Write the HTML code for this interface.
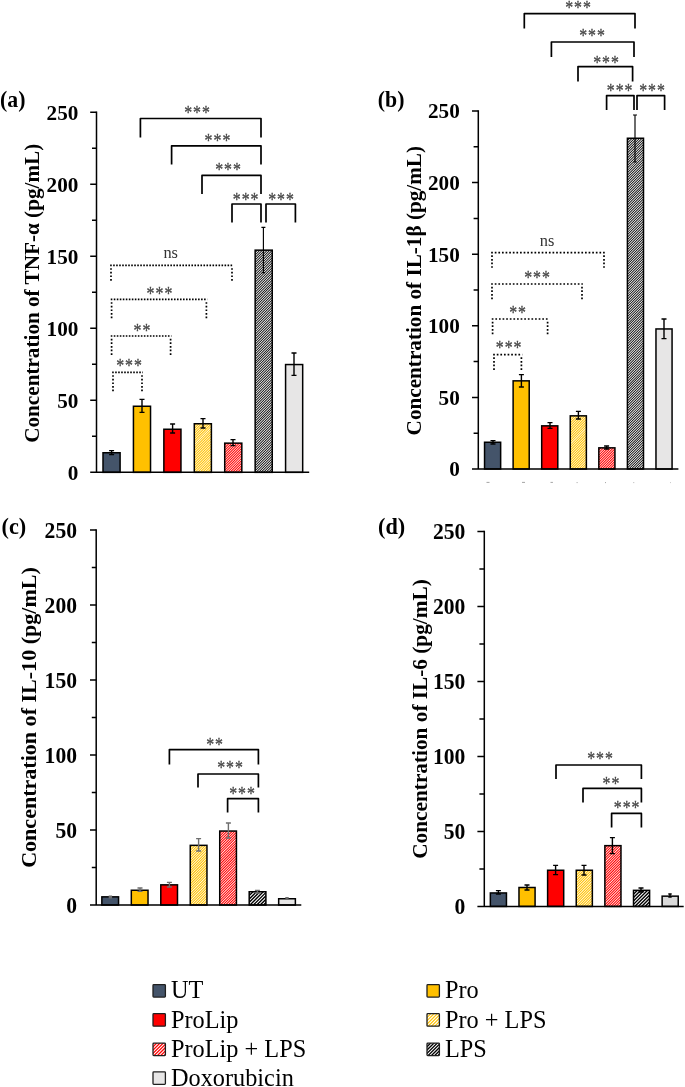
<!DOCTYPE html>
<html lang="en"><head><meta charset="utf-8"><title>Cytokine concentrations</title>
<style>html,body{margin:0;padding:0;background:#fff}svg{display:block}text{font-family:"Liberation Serif", "DejaVu Serif", serif}</style></head><body>
<svg width="685" height="1087" viewBox="0 0 685 1087">
<rect width="685" height="1087" fill="#fff"/>
<g id="panel-a">
<rect x="103" y="452.75" width="17.1" height="19.6" fill="#44546a" stroke="#000" stroke-width="1.5"/>
<rect x="133.43" y="406.25" width="17.1" height="66.1" fill="#ffc000" stroke="#000" stroke-width="1.5"/>
<rect x="163.86" y="429.25" width="17.1" height="43.1" fill="#ff0000" stroke="#000" stroke-width="1.5"/>
<clipPath id="ca3"><rect x="194.29" y="423.75" width="17.1" height="48.6"/></clipPath>
<rect x="194.29" y="423.75" width="17.1" height="48.6" fill="#ffc000"/>
<path clip-path="url(#ca3)" d="M193.29 422.75l19.1 -19.1v1.02l-19.1 19.1zM193.29 425.23l19.1 -19.1v1.02l-19.1 19.1zM193.29 427.71l19.1 -19.1v1.02l-19.1 19.1zM193.29 430.19l19.1 -19.1v1.02l-19.1 19.1zM193.29 432.67l19.1 -19.1v1.02l-19.1 19.1zM193.29 435.15l19.1 -19.1v1.02l-19.1 19.1zM193.29 437.63l19.1 -19.1v1.02l-19.1 19.1zM193.29 440.11l19.1 -19.1v1.02l-19.1 19.1zM193.29 442.59l19.1 -19.1v1.02l-19.1 19.1zM193.29 445.07l19.1 -19.1v1.02l-19.1 19.1zM193.29 447.55l19.1 -19.1v1.02l-19.1 19.1zM193.29 450.03l19.1 -19.1v1.02l-19.1 19.1zM193.29 452.51l19.1 -19.1v1.02l-19.1 19.1zM193.29 454.99l19.1 -19.1v1.02l-19.1 19.1zM193.29 457.47l19.1 -19.1v1.02l-19.1 19.1zM193.29 459.95l19.1 -19.1v1.02l-19.1 19.1zM193.29 462.43l19.1 -19.1v1.02l-19.1 19.1zM193.29 464.91l19.1 -19.1v1.02l-19.1 19.1zM193.29 467.39l19.1 -19.1v1.02l-19.1 19.1zM193.29 469.87l19.1 -19.1v1.02l-19.1 19.1zM193.29 472.35l19.1 -19.1v1.02l-19.1 19.1zM193.29 474.83l19.1 -19.1v1.02l-19.1 19.1zM193.29 477.31l19.1 -19.1v1.02l-19.1 19.1zM193.29 479.79l19.1 -19.1v1.02l-19.1 19.1zM193.29 482.27l19.1 -19.1v1.02l-19.1 19.1zM193.29 484.75l19.1 -19.1v1.02l-19.1 19.1zM193.29 487.23l19.1 -19.1v1.02l-19.1 19.1zM193.29 489.71l19.1 -19.1v1.02l-19.1 19.1zM193.29 492.19l19.1 -19.1v1.02l-19.1 19.1z" fill="#fff"/>
<rect x="194.29" y="423.75" width="17.1" height="48.6" fill="none" stroke="#000" stroke-width="1.5"/>
<clipPath id="ca4"><rect x="224.72" y="443.15" width="17.1" height="29.2"/></clipPath>
<rect x="224.72" y="443.15" width="17.1" height="29.2" fill="#ff0000"/>
<path clip-path="url(#ca4)" d="M223.72 442.15l19.1 -19.1v1.02l-19.1 19.1zM223.72 444.63l19.1 -19.1v1.02l-19.1 19.1zM223.72 447.11l19.1 -19.1v1.02l-19.1 19.1zM223.72 449.59l19.1 -19.1v1.02l-19.1 19.1zM223.72 452.07l19.1 -19.1v1.02l-19.1 19.1zM223.72 454.55l19.1 -19.1v1.02l-19.1 19.1zM223.72 457.03l19.1 -19.1v1.02l-19.1 19.1zM223.72 459.51l19.1 -19.1v1.02l-19.1 19.1zM223.72 461.99l19.1 -19.1v1.02l-19.1 19.1zM223.72 464.47l19.1 -19.1v1.02l-19.1 19.1zM223.72 466.95l19.1 -19.1v1.02l-19.1 19.1zM223.72 469.43l19.1 -19.1v1.02l-19.1 19.1zM223.72 471.91l19.1 -19.1v1.02l-19.1 19.1zM223.72 474.39l19.1 -19.1v1.02l-19.1 19.1zM223.72 476.87l19.1 -19.1v1.02l-19.1 19.1zM223.72 479.35l19.1 -19.1v1.02l-19.1 19.1zM223.72 481.83l19.1 -19.1v1.02l-19.1 19.1zM223.72 484.31l19.1 -19.1v1.02l-19.1 19.1zM223.72 486.79l19.1 -19.1v1.02l-19.1 19.1zM223.72 489.27l19.1 -19.1v1.02l-19.1 19.1zM223.72 491.75l19.1 -19.1v1.02l-19.1 19.1z" fill="#fff"/>
<rect x="224.72" y="443.15" width="17.1" height="29.2" fill="none" stroke="#000" stroke-width="1.5"/>
<clipPath id="ca5"><rect x="255.15" y="250.15" width="17.1" height="222.2"/></clipPath>
<rect x="255.15" y="250.15" width="17.1" height="222.2" fill="#000000"/>
<path clip-path="url(#ca5)" d="M254.15 249.15l19.1 -19.1v1.24l-19.1 19.1zM254.15 251.63l19.1 -19.1v1.24l-19.1 19.1zM254.15 254.11l19.1 -19.1v1.24l-19.1 19.1zM254.15 256.59l19.1 -19.1v1.24l-19.1 19.1zM254.15 259.07l19.1 -19.1v1.24l-19.1 19.1zM254.15 261.55l19.1 -19.1v1.24l-19.1 19.1zM254.15 264.03l19.1 -19.1v1.24l-19.1 19.1zM254.15 266.51l19.1 -19.1v1.24l-19.1 19.1zM254.15 268.99l19.1 -19.1v1.24l-19.1 19.1zM254.15 271.47l19.1 -19.1v1.24l-19.1 19.1zM254.15 273.95l19.1 -19.1v1.24l-19.1 19.1zM254.15 276.43l19.1 -19.1v1.24l-19.1 19.1zM254.15 278.91l19.1 -19.1v1.24l-19.1 19.1zM254.15 281.39l19.1 -19.1v1.24l-19.1 19.1zM254.15 283.87l19.1 -19.1v1.24l-19.1 19.1zM254.15 286.35l19.1 -19.1v1.24l-19.1 19.1zM254.15 288.83l19.1 -19.1v1.24l-19.1 19.1zM254.15 291.31l19.1 -19.1v1.24l-19.1 19.1zM254.15 293.79l19.1 -19.1v1.24l-19.1 19.1zM254.15 296.27l19.1 -19.1v1.24l-19.1 19.1zM254.15 298.75l19.1 -19.1v1.24l-19.1 19.1zM254.15 301.23l19.1 -19.1v1.24l-19.1 19.1zM254.15 303.71l19.1 -19.1v1.24l-19.1 19.1zM254.15 306.19l19.1 -19.1v1.24l-19.1 19.1zM254.15 308.67l19.1 -19.1v1.24l-19.1 19.1zM254.15 311.15l19.1 -19.1v1.24l-19.1 19.1zM254.15 313.63l19.1 -19.1v1.24l-19.1 19.1zM254.15 316.11l19.1 -19.1v1.24l-19.1 19.1zM254.15 318.59l19.1 -19.1v1.24l-19.1 19.1zM254.15 321.07l19.1 -19.1v1.24l-19.1 19.1zM254.15 323.55l19.1 -19.1v1.24l-19.1 19.1zM254.15 326.03l19.1 -19.1v1.24l-19.1 19.1zM254.15 328.51l19.1 -19.1v1.24l-19.1 19.1zM254.15 330.99l19.1 -19.1v1.24l-19.1 19.1zM254.15 333.47l19.1 -19.1v1.24l-19.1 19.1zM254.15 335.95l19.1 -19.1v1.24l-19.1 19.1zM254.15 338.43l19.1 -19.1v1.24l-19.1 19.1zM254.15 340.91l19.1 -19.1v1.24l-19.1 19.1zM254.15 343.39l19.1 -19.1v1.24l-19.1 19.1zM254.15 345.87l19.1 -19.1v1.24l-19.1 19.1zM254.15 348.35l19.1 -19.1v1.24l-19.1 19.1zM254.15 350.83l19.1 -19.1v1.24l-19.1 19.1zM254.15 353.31l19.1 -19.1v1.24l-19.1 19.1zM254.15 355.79l19.1 -19.1v1.24l-19.1 19.1zM254.15 358.27l19.1 -19.1v1.24l-19.1 19.1zM254.15 360.75l19.1 -19.1v1.24l-19.1 19.1zM254.15 363.23l19.1 -19.1v1.24l-19.1 19.1zM254.15 365.71l19.1 -19.1v1.24l-19.1 19.1zM254.15 368.19l19.1 -19.1v1.24l-19.1 19.1zM254.15 370.67l19.1 -19.1v1.24l-19.1 19.1zM254.15 373.15l19.1 -19.1v1.24l-19.1 19.1zM254.15 375.63l19.1 -19.1v1.24l-19.1 19.1zM254.15 378.11l19.1 -19.1v1.24l-19.1 19.1zM254.15 380.59l19.1 -19.1v1.24l-19.1 19.1zM254.15 383.07l19.1 -19.1v1.24l-19.1 19.1zM254.15 385.55l19.1 -19.1v1.24l-19.1 19.1zM254.15 388.03l19.1 -19.1v1.24l-19.1 19.1zM254.15 390.51l19.1 -19.1v1.24l-19.1 19.1zM254.15 392.99l19.1 -19.1v1.24l-19.1 19.1zM254.15 395.47l19.1 -19.1v1.24l-19.1 19.1zM254.15 397.95l19.1 -19.1v1.24l-19.1 19.1zM254.15 400.43l19.1 -19.1v1.24l-19.1 19.1zM254.15 402.91l19.1 -19.1v1.24l-19.1 19.1zM254.15 405.39l19.1 -19.1v1.24l-19.1 19.1zM254.15 407.87l19.1 -19.1v1.24l-19.1 19.1zM254.15 410.35l19.1 -19.1v1.24l-19.1 19.1zM254.15 412.83l19.1 -19.1v1.24l-19.1 19.1zM254.15 415.31l19.1 -19.1v1.24l-19.1 19.1zM254.15 417.79l19.1 -19.1v1.24l-19.1 19.1zM254.15 420.27l19.1 -19.1v1.24l-19.1 19.1zM254.15 422.75l19.1 -19.1v1.24l-19.1 19.1zM254.15 425.23l19.1 -19.1v1.24l-19.1 19.1zM254.15 427.71l19.1 -19.1v1.24l-19.1 19.1zM254.15 430.19l19.1 -19.1v1.24l-19.1 19.1zM254.15 432.67l19.1 -19.1v1.24l-19.1 19.1zM254.15 435.15l19.1 -19.1v1.24l-19.1 19.1zM254.15 437.63l19.1 -19.1v1.24l-19.1 19.1zM254.15 440.11l19.1 -19.1v1.24l-19.1 19.1zM254.15 442.59l19.1 -19.1v1.24l-19.1 19.1zM254.15 445.07l19.1 -19.1v1.24l-19.1 19.1zM254.15 447.55l19.1 -19.1v1.24l-19.1 19.1zM254.15 450.03l19.1 -19.1v1.24l-19.1 19.1zM254.15 452.51l19.1 -19.1v1.24l-19.1 19.1zM254.15 454.99l19.1 -19.1v1.24l-19.1 19.1zM254.15 457.47l19.1 -19.1v1.24l-19.1 19.1zM254.15 459.95l19.1 -19.1v1.24l-19.1 19.1zM254.15 462.43l19.1 -19.1v1.24l-19.1 19.1zM254.15 464.91l19.1 -19.1v1.24l-19.1 19.1zM254.15 467.39l19.1 -19.1v1.24l-19.1 19.1zM254.15 469.87l19.1 -19.1v1.24l-19.1 19.1zM254.15 472.35l19.1 -19.1v1.24l-19.1 19.1zM254.15 474.83l19.1 -19.1v1.24l-19.1 19.1zM254.15 477.31l19.1 -19.1v1.24l-19.1 19.1zM254.15 479.79l19.1 -19.1v1.24l-19.1 19.1zM254.15 482.27l19.1 -19.1v1.24l-19.1 19.1zM254.15 484.75l19.1 -19.1v1.24l-19.1 19.1zM254.15 487.23l19.1 -19.1v1.24l-19.1 19.1zM254.15 489.71l19.1 -19.1v1.24l-19.1 19.1zM254.15 492.19l19.1 -19.1v1.24l-19.1 19.1z" fill="#fff"/>
<rect x="255.15" y="250.15" width="17.1" height="222.2" fill="none" stroke="#000" stroke-width="1.5"/>
<rect x="285.58" y="364.55" width="17.1" height="107.8" fill="#e7e6e6" stroke="#000" stroke-width="1.5"/>
<path d="M96.5 111.6V473.1M90.2 472.35H309.2" stroke="#000" stroke-width="1.5" fill="none"/>
<path d="M92 436.35H96.5M90.2 400.35H96.5M92 364.35H96.5M90.2 328.35H96.5M92 292.35H96.5M90.2 256.35H96.5M92 220.35H96.5M90.2 184.35H96.5M92 148.35H96.5M90.2 112.35H96.5" stroke="#000" stroke-width="1.5" fill="none"/>
<text transform="translate(78.4 479.65) scale(1 1.03)" font-size="21.2" font-weight="bold" text-anchor="end" fill="#000">0</text>
<text transform="translate(78.4 407.65) scale(1 1.03)" font-size="21.2" font-weight="bold" text-anchor="end" fill="#000">50</text>
<text transform="translate(78.4 335.65) scale(1 1.03)" font-size="21.2" font-weight="bold" text-anchor="end" fill="#000">100</text>
<text transform="translate(78.4 263.65) scale(1 1.03)" font-size="21.2" font-weight="bold" text-anchor="end" fill="#000">150</text>
<text transform="translate(78.4 191.65) scale(1 1.03)" font-size="21.2" font-weight="bold" text-anchor="end" fill="#000">200</text>
<text transform="translate(78.4 119.65) scale(1 1.03)" font-size="21.2" font-weight="bold" text-anchor="end" fill="#000">250</text>
<path d="M111.6 450.6V454.6M109.1 450.6H114.1M109.1 454.6H114.1M142 399.4V412.4M139.5 399.4H144.5M139.5 412.4H144.5M172.6 424V433M170.1 424H175.1M170.1 433H175.1M203 418.6V428M200.5 418.6H205.5M200.5 428H205.5M233 439.6V445.6M230.5 439.6H235.5M230.5 445.6H235.5M294 353V375.4M291.5 353H296.5M291.5 375.4H296.5" stroke="#000" stroke-width="1.4" fill="none"/>
<path d="M263.4 227.4V272.6M261.4 227.4H265.4M261.8 272.6H265" stroke="#000" stroke-width="1.15" fill="none"/>
<path d="M140.4 137.5V118.5H261V137.5M171.6 164.4V145.8H261V164.4M202 194V175.4H261V194M232 222.6V204H261V222.6M266 222.6V204H295.4V222.6" stroke="#000" stroke-width="1.7" fill="none" stroke-linejoin="round"/>
<path d="M110.15 265.4H232.85M110.75 299.4H207.25M110.75 336H171.45M112.15 372.4H142.85" stroke="#000" stroke-width="1.7" stroke-dasharray="1.6 1.41" fill="none"/>
<path d="M111 268.16V281.45M232 268.16V281.45M111.6 302.16V318.85M206.4 302.16V318.85M111.6 338.76V355.85M170.6 338.76V355.85M113 375.16V391.85M142 375.16V391.85" stroke="#000" stroke-width="1.7" stroke-dasharray="1.7 1.91" fill="none"/>
<text transform="translate(184.2 119) scale(0.88 1.105)" font-size="18" letter-spacing="1.11" fill="#4a4a4a" stroke="#4a4a4a" stroke-width="0.3">***</text>
<text transform="translate(204.6 147.4) scale(0.88 1.105)" font-size="18" letter-spacing="1.11" fill="#4a4a4a" stroke="#4a4a4a" stroke-width="0.3">***</text>
<text transform="translate(215.2 176.4) scale(0.88 1.105)" font-size="18" letter-spacing="1.11" fill="#4a4a4a" stroke="#4a4a4a" stroke-width="0.3">***</text>
<text transform="translate(232.8 206) scale(0.88 1.105)" font-size="18" letter-spacing="1.11" fill="#4a4a4a" stroke="#4a4a4a" stroke-width="0.3">***</text>
<text transform="translate(268.2 206) scale(0.88 1.105)" font-size="18" letter-spacing="1.11" fill="#4a4a4a" stroke="#4a4a4a" stroke-width="0.3">***</text>
<text transform="translate(146.6 299.9) scale(0.88 1.105)" font-size="18" letter-spacing="1.11" fill="#4a4a4a" stroke="#4a4a4a" stroke-width="0.3">***</text>
<text transform="translate(133.6 337.4) scale(0.88 1.105)" font-size="18" letter-spacing="1.11" fill="#4a4a4a" stroke="#4a4a4a" stroke-width="0.3">**</text>
<text transform="translate(116.2 372.4) scale(0.88 1.105)" font-size="18" letter-spacing="1.11" fill="#4a4a4a" stroke="#4a4a4a" stroke-width="0.3">***</text>
<text x="163.4" y="258" font-size="16.4" fill="#333">ns</text>
<text transform="translate(0 106.8) scale(1 1.04)" font-size="21.8" font-weight="bold" fill="#000">(a)</text>
<text transform="translate(38.8 293.3) rotate(-90)" font-size="20" font-weight="bold" text-anchor="middle" textLength="299" lengthAdjust="spacingAndGlyphs" fill="#000">Concentration of TNF-α (pg/mL)</text>
</g>
<g id="panel-b">
<rect x="484.55" y="442.25" width="16.1" height="26.75" fill="#44546a" stroke="#000" stroke-width="1.5"/>
<rect x="513.12" y="380.85" width="16.1" height="88.15" fill="#ffc000" stroke="#000" stroke-width="1.5"/>
<rect x="541.69" y="425.85" width="16.1" height="43.15" fill="#ff0000" stroke="#000" stroke-width="1.5"/>
<clipPath id="cb3"><rect x="570.26" y="415.85" width="16.1" height="53.15"/></clipPath>
<rect x="570.26" y="415.85" width="16.1" height="53.15" fill="#ffc000"/>
<path clip-path="url(#cb3)" d="M569.26 414.85l18.1 -18.1v1.02l-18.1 18.1zM569.26 417.33l18.1 -18.1v1.02l-18.1 18.1zM569.26 419.81l18.1 -18.1v1.02l-18.1 18.1zM569.26 422.29l18.1 -18.1v1.02l-18.1 18.1zM569.26 424.77l18.1 -18.1v1.02l-18.1 18.1zM569.26 427.25l18.1 -18.1v1.02l-18.1 18.1zM569.26 429.73l18.1 -18.1v1.02l-18.1 18.1zM569.26 432.21l18.1 -18.1v1.02l-18.1 18.1zM569.26 434.69l18.1 -18.1v1.02l-18.1 18.1zM569.26 437.17l18.1 -18.1v1.02l-18.1 18.1zM569.26 439.65l18.1 -18.1v1.02l-18.1 18.1zM569.26 442.13l18.1 -18.1v1.02l-18.1 18.1zM569.26 444.61l18.1 -18.1v1.02l-18.1 18.1zM569.26 447.09l18.1 -18.1v1.02l-18.1 18.1zM569.26 449.57l18.1 -18.1v1.02l-18.1 18.1zM569.26 452.05l18.1 -18.1v1.02l-18.1 18.1zM569.26 454.53l18.1 -18.1v1.02l-18.1 18.1zM569.26 457.01l18.1 -18.1v1.02l-18.1 18.1zM569.26 459.49l18.1 -18.1v1.02l-18.1 18.1zM569.26 461.97l18.1 -18.1v1.02l-18.1 18.1zM569.26 464.45l18.1 -18.1v1.02l-18.1 18.1zM569.26 466.93l18.1 -18.1v1.02l-18.1 18.1zM569.26 469.41l18.1 -18.1v1.02l-18.1 18.1zM569.26 471.89l18.1 -18.1v1.02l-18.1 18.1zM569.26 474.37l18.1 -18.1v1.02l-18.1 18.1zM569.26 476.85l18.1 -18.1v1.02l-18.1 18.1zM569.26 479.33l18.1 -18.1v1.02l-18.1 18.1zM569.26 481.81l18.1 -18.1v1.02l-18.1 18.1zM569.26 484.29l18.1 -18.1v1.02l-18.1 18.1zM569.26 486.77l18.1 -18.1v1.02l-18.1 18.1z" fill="#fff"/>
<rect x="570.26" y="415.85" width="16.1" height="53.15" fill="none" stroke="#000" stroke-width="1.5"/>
<clipPath id="cb4"><rect x="598.83" y="447.85" width="16.1" height="21.15"/></clipPath>
<rect x="598.83" y="447.85" width="16.1" height="21.15" fill="#ff0000"/>
<path clip-path="url(#cb4)" d="M597.83 446.85l18.1 -18.1v1.02l-18.1 18.1zM597.83 449.33l18.1 -18.1v1.02l-18.1 18.1zM597.83 451.81l18.1 -18.1v1.02l-18.1 18.1zM597.83 454.29l18.1 -18.1v1.02l-18.1 18.1zM597.83 456.77l18.1 -18.1v1.02l-18.1 18.1zM597.83 459.25l18.1 -18.1v1.02l-18.1 18.1zM597.83 461.73l18.1 -18.1v1.02l-18.1 18.1zM597.83 464.21l18.1 -18.1v1.02l-18.1 18.1zM597.83 466.69l18.1 -18.1v1.02l-18.1 18.1zM597.83 469.17l18.1 -18.1v1.02l-18.1 18.1zM597.83 471.65l18.1 -18.1v1.02l-18.1 18.1zM597.83 474.13l18.1 -18.1v1.02l-18.1 18.1zM597.83 476.61l18.1 -18.1v1.02l-18.1 18.1zM597.83 479.09l18.1 -18.1v1.02l-18.1 18.1zM597.83 481.57l18.1 -18.1v1.02l-18.1 18.1zM597.83 484.05l18.1 -18.1v1.02l-18.1 18.1zM597.83 486.53l18.1 -18.1v1.02l-18.1 18.1z" fill="#fff"/>
<rect x="598.83" y="447.85" width="16.1" height="21.15" fill="none" stroke="#000" stroke-width="1.5"/>
<clipPath id="cb5"><rect x="627.4" y="138.25" width="16.1" height="330.75"/></clipPath>
<rect x="627.4" y="138.25" width="16.1" height="330.75" fill="#000000"/>
<path clip-path="url(#cb5)" d="M626.4 137.25l18.1 -18.1v1.24l-18.1 18.1zM626.4 139.73l18.1 -18.1v1.24l-18.1 18.1zM626.4 142.21l18.1 -18.1v1.24l-18.1 18.1zM626.4 144.69l18.1 -18.1v1.24l-18.1 18.1zM626.4 147.17l18.1 -18.1v1.24l-18.1 18.1zM626.4 149.65l18.1 -18.1v1.24l-18.1 18.1zM626.4 152.13l18.1 -18.1v1.24l-18.1 18.1zM626.4 154.61l18.1 -18.1v1.24l-18.1 18.1zM626.4 157.09l18.1 -18.1v1.24l-18.1 18.1zM626.4 159.57l18.1 -18.1v1.24l-18.1 18.1zM626.4 162.05l18.1 -18.1v1.24l-18.1 18.1zM626.4 164.53l18.1 -18.1v1.24l-18.1 18.1zM626.4 167.01l18.1 -18.1v1.24l-18.1 18.1zM626.4 169.49l18.1 -18.1v1.24l-18.1 18.1zM626.4 171.97l18.1 -18.1v1.24l-18.1 18.1zM626.4 174.45l18.1 -18.1v1.24l-18.1 18.1zM626.4 176.93l18.1 -18.1v1.24l-18.1 18.1zM626.4 179.41l18.1 -18.1v1.24l-18.1 18.1zM626.4 181.89l18.1 -18.1v1.24l-18.1 18.1zM626.4 184.37l18.1 -18.1v1.24l-18.1 18.1zM626.4 186.85l18.1 -18.1v1.24l-18.1 18.1zM626.4 189.33l18.1 -18.1v1.24l-18.1 18.1zM626.4 191.81l18.1 -18.1v1.24l-18.1 18.1zM626.4 194.29l18.1 -18.1v1.24l-18.1 18.1zM626.4 196.77l18.1 -18.1v1.24l-18.1 18.1zM626.4 199.25l18.1 -18.1v1.24l-18.1 18.1zM626.4 201.73l18.1 -18.1v1.24l-18.1 18.1zM626.4 204.21l18.1 -18.1v1.24l-18.1 18.1zM626.4 206.69l18.1 -18.1v1.24l-18.1 18.1zM626.4 209.17l18.1 -18.1v1.24l-18.1 18.1zM626.4 211.65l18.1 -18.1v1.24l-18.1 18.1zM626.4 214.13l18.1 -18.1v1.24l-18.1 18.1zM626.4 216.61l18.1 -18.1v1.24l-18.1 18.1zM626.4 219.09l18.1 -18.1v1.24l-18.1 18.1zM626.4 221.57l18.1 -18.1v1.24l-18.1 18.1zM626.4 224.05l18.1 -18.1v1.24l-18.1 18.1zM626.4 226.53l18.1 -18.1v1.24l-18.1 18.1zM626.4 229.01l18.1 -18.1v1.24l-18.1 18.1zM626.4 231.49l18.1 -18.1v1.24l-18.1 18.1zM626.4 233.97l18.1 -18.1v1.24l-18.1 18.1zM626.4 236.45l18.1 -18.1v1.24l-18.1 18.1zM626.4 238.93l18.1 -18.1v1.24l-18.1 18.1zM626.4 241.41l18.1 -18.1v1.24l-18.1 18.1zM626.4 243.89l18.1 -18.1v1.24l-18.1 18.1zM626.4 246.37l18.1 -18.1v1.24l-18.1 18.1zM626.4 248.85l18.1 -18.1v1.24l-18.1 18.1zM626.4 251.33l18.1 -18.1v1.24l-18.1 18.1zM626.4 253.81l18.1 -18.1v1.24l-18.1 18.1zM626.4 256.29l18.1 -18.1v1.24l-18.1 18.1zM626.4 258.77l18.1 -18.1v1.24l-18.1 18.1zM626.4 261.25l18.1 -18.1v1.24l-18.1 18.1zM626.4 263.73l18.1 -18.1v1.24l-18.1 18.1zM626.4 266.21l18.1 -18.1v1.24l-18.1 18.1zM626.4 268.69l18.1 -18.1v1.24l-18.1 18.1zM626.4 271.17l18.1 -18.1v1.24l-18.1 18.1zM626.4 273.65l18.1 -18.1v1.24l-18.1 18.1zM626.4 276.13l18.1 -18.1v1.24l-18.1 18.1zM626.4 278.61l18.1 -18.1v1.24l-18.1 18.1zM626.4 281.09l18.1 -18.1v1.24l-18.1 18.1zM626.4 283.57l18.1 -18.1v1.24l-18.1 18.1zM626.4 286.05l18.1 -18.1v1.24l-18.1 18.1zM626.4 288.53l18.1 -18.1v1.24l-18.1 18.1zM626.4 291.01l18.1 -18.1v1.24l-18.1 18.1zM626.4 293.49l18.1 -18.1v1.24l-18.1 18.1zM626.4 295.97l18.1 -18.1v1.24l-18.1 18.1zM626.4 298.45l18.1 -18.1v1.24l-18.1 18.1zM626.4 300.93l18.1 -18.1v1.24l-18.1 18.1zM626.4 303.41l18.1 -18.1v1.24l-18.1 18.1zM626.4 305.89l18.1 -18.1v1.24l-18.1 18.1zM626.4 308.37l18.1 -18.1v1.24l-18.1 18.1zM626.4 310.85l18.1 -18.1v1.24l-18.1 18.1zM626.4 313.33l18.1 -18.1v1.24l-18.1 18.1zM626.4 315.81l18.1 -18.1v1.24l-18.1 18.1zM626.4 318.29l18.1 -18.1v1.24l-18.1 18.1zM626.4 320.77l18.1 -18.1v1.24l-18.1 18.1zM626.4 323.25l18.1 -18.1v1.24l-18.1 18.1zM626.4 325.73l18.1 -18.1v1.24l-18.1 18.1zM626.4 328.21l18.1 -18.1v1.24l-18.1 18.1zM626.4 330.69l18.1 -18.1v1.24l-18.1 18.1zM626.4 333.17l18.1 -18.1v1.24l-18.1 18.1zM626.4 335.65l18.1 -18.1v1.24l-18.1 18.1zM626.4 338.13l18.1 -18.1v1.24l-18.1 18.1zM626.4 340.61l18.1 -18.1v1.24l-18.1 18.1zM626.4 343.09l18.1 -18.1v1.24l-18.1 18.1zM626.4 345.57l18.1 -18.1v1.24l-18.1 18.1zM626.4 348.05l18.1 -18.1v1.24l-18.1 18.1zM626.4 350.53l18.1 -18.1v1.24l-18.1 18.1zM626.4 353.01l18.1 -18.1v1.24l-18.1 18.1zM626.4 355.49l18.1 -18.1v1.24l-18.1 18.1zM626.4 357.97l18.1 -18.1v1.24l-18.1 18.1zM626.4 360.45l18.1 -18.1v1.24l-18.1 18.1zM626.4 362.93l18.1 -18.1v1.24l-18.1 18.1zM626.4 365.41l18.1 -18.1v1.24l-18.1 18.1zM626.4 367.89l18.1 -18.1v1.24l-18.1 18.1zM626.4 370.37l18.1 -18.1v1.24l-18.1 18.1zM626.4 372.85l18.1 -18.1v1.24l-18.1 18.1zM626.4 375.33l18.1 -18.1v1.24l-18.1 18.1zM626.4 377.81l18.1 -18.1v1.24l-18.1 18.1zM626.4 380.29l18.1 -18.1v1.24l-18.1 18.1zM626.4 382.77l18.1 -18.1v1.24l-18.1 18.1zM626.4 385.25l18.1 -18.1v1.24l-18.1 18.1zM626.4 387.73l18.1 -18.1v1.24l-18.1 18.1zM626.4 390.21l18.1 -18.1v1.24l-18.1 18.1zM626.4 392.69l18.1 -18.1v1.24l-18.1 18.1zM626.4 395.17l18.1 -18.1v1.24l-18.1 18.1zM626.4 397.65l18.1 -18.1v1.24l-18.1 18.1zM626.4 400.13l18.1 -18.1v1.24l-18.1 18.1zM626.4 402.61l18.1 -18.1v1.24l-18.1 18.1zM626.4 405.09l18.1 -18.1v1.24l-18.1 18.1zM626.4 407.57l18.1 -18.1v1.24l-18.1 18.1zM626.4 410.05l18.1 -18.1v1.24l-18.1 18.1zM626.4 412.53l18.1 -18.1v1.24l-18.1 18.1zM626.4 415.01l18.1 -18.1v1.24l-18.1 18.1zM626.4 417.49l18.1 -18.1v1.24l-18.1 18.1zM626.4 419.97l18.1 -18.1v1.24l-18.1 18.1zM626.4 422.45l18.1 -18.1v1.24l-18.1 18.1zM626.4 424.93l18.1 -18.1v1.24l-18.1 18.1zM626.4 427.41l18.1 -18.1v1.24l-18.1 18.1zM626.4 429.89l18.1 -18.1v1.24l-18.1 18.1zM626.4 432.37l18.1 -18.1v1.24l-18.1 18.1zM626.4 434.85l18.1 -18.1v1.24l-18.1 18.1zM626.4 437.33l18.1 -18.1v1.24l-18.1 18.1zM626.4 439.81l18.1 -18.1v1.24l-18.1 18.1zM626.4 442.29l18.1 -18.1v1.24l-18.1 18.1zM626.4 444.77l18.1 -18.1v1.24l-18.1 18.1zM626.4 447.25l18.1 -18.1v1.24l-18.1 18.1zM626.4 449.73l18.1 -18.1v1.24l-18.1 18.1zM626.4 452.21l18.1 -18.1v1.24l-18.1 18.1zM626.4 454.69l18.1 -18.1v1.24l-18.1 18.1zM626.4 457.17l18.1 -18.1v1.24l-18.1 18.1zM626.4 459.65l18.1 -18.1v1.24l-18.1 18.1zM626.4 462.13l18.1 -18.1v1.24l-18.1 18.1zM626.4 464.61l18.1 -18.1v1.24l-18.1 18.1zM626.4 467.09l18.1 -18.1v1.24l-18.1 18.1zM626.4 469.57l18.1 -18.1v1.24l-18.1 18.1zM626.4 472.05l18.1 -18.1v1.24l-18.1 18.1zM626.4 474.53l18.1 -18.1v1.24l-18.1 18.1zM626.4 477.01l18.1 -18.1v1.24l-18.1 18.1zM626.4 479.49l18.1 -18.1v1.24l-18.1 18.1zM626.4 481.97l18.1 -18.1v1.24l-18.1 18.1zM626.4 484.45l18.1 -18.1v1.24l-18.1 18.1zM626.4 486.93l18.1 -18.1v1.24l-18.1 18.1z" fill="#fff"/>
<rect x="627.4" y="138.25" width="16.1" height="330.75" fill="none" stroke="#000" stroke-width="1.5"/>
<rect x="655.97" y="328.95" width="16.1" height="140.05" fill="#e7e6e6" stroke="#000" stroke-width="1.5"/>
<path d="M478.3 110.25V469.75M472 469H678.4" stroke="#000" stroke-width="1.5" fill="none"/>
<path d="M473.6 433.2H478.3M472 397.4H478.3M473.6 361.6H478.3M472 325.8H478.3M473.6 290H478.3M472 254.2H478.3M473.6 218.4H478.3M472 182.6H478.3M473.6 146.8H478.3M472 111H478.3" stroke="#000" stroke-width="1.5" fill="none"/>
<text transform="translate(459.8 476.3) scale(1 1.03)" font-size="21.2" font-weight="bold" text-anchor="end" fill="#000">0</text>
<text transform="translate(459.8 404.7) scale(1 1.03)" font-size="21.2" font-weight="bold" text-anchor="end" fill="#000">50</text>
<text transform="translate(459.8 333.1) scale(1 1.03)" font-size="21.2" font-weight="bold" text-anchor="end" fill="#000">100</text>
<text transform="translate(459.8 261.5) scale(1 1.03)" font-size="21.2" font-weight="bold" text-anchor="end" fill="#000">150</text>
<text transform="translate(459.8 189.9) scale(1 1.03)" font-size="21.2" font-weight="bold" text-anchor="end" fill="#000">200</text>
<text transform="translate(459.8 118.3) scale(1 1.03)" font-size="21.2" font-weight="bold" text-anchor="end" fill="#000">250</text>
<path d="M493 440.6V444M490.5 440.6H495.5M490.5 444H495.5M521.4 374.6V387M518.9 374.6H523.9M518.9 387H523.9M550 422.6V428.4M547.5 422.6H552.5M547.5 428.4H552.5M578.4 411.4V419M575.9 411.4H580.9M575.9 419H580.9M606.6 446V449M604.1 446H609.1M604.1 449H609.1M664 319V338.6M661.5 319H666.5M661.5 338.6H666.5" stroke="#000" stroke-width="1.4" fill="none"/>
<path d="M635 115V162M633 115H637M633.4 162H636.6" stroke="#000" stroke-width="1.15" fill="none"/>
<path d="M524.3 28.6V13.6H635V28.6M551.4 57V42H634V57M578 81.6V66.6H632.6V81.6M606.6 110V95.6H634V110M637 110V95.6H664.6V110" stroke="#000" stroke-width="1.7" fill="none" stroke-linejoin="round"/>
<path d="M491.15 252.6H604.85M491.15 284H582.85M491.75 319H548.45M493.15 354.6H522.25" stroke="#000" stroke-width="1.7" stroke-dasharray="1.7 1.91" fill="none"/>
<path d="M492 255.36V267.85M604 255.36V267.85M492 286.76V299.85M582 286.76V299.85M492.6 321.76V334.85M547.6 321.76V334.85M494 357.36V370.25M521.4 357.36V370.25" stroke="#000" stroke-width="1.7" stroke-dasharray="1.7 1.91" fill="none"/>
<text transform="translate(565.2 14) scale(0.88 1.105)" font-size="18" letter-spacing="1.11" fill="#4a4a4a" stroke="#4a4a4a" stroke-width="0.3">***</text>
<text transform="translate(579.2 42.4) scale(0.88 1.105)" font-size="18" letter-spacing="1.11" fill="#4a4a4a" stroke="#4a4a4a" stroke-width="0.3">***</text>
<text transform="translate(593.2 69.4) scale(0.88 1.105)" font-size="18" letter-spacing="1.11" fill="#4a4a4a" stroke="#4a4a4a" stroke-width="0.3">***</text>
<text transform="translate(606.8 97.4) scale(0.88 1.105)" font-size="18" letter-spacing="1.11" fill="#4a4a4a" stroke="#4a4a4a" stroke-width="0.3">***</text>
<text transform="translate(639.2 97.4) scale(0.88 1.105)" font-size="18" letter-spacing="1.11" fill="#4a4a4a" stroke="#4a4a4a" stroke-width="0.3">***</text>
<text transform="translate(524.2 283.8) scale(0.88 1.105)" font-size="18" letter-spacing="1.11" fill="#4a4a4a" stroke="#4a4a4a" stroke-width="0.3">***</text>
<text transform="translate(509.2 319.4) scale(0.88 1.105)" font-size="18" letter-spacing="1.11" fill="#4a4a4a" stroke="#4a4a4a" stroke-width="0.3">**</text>
<text transform="translate(495.8 353.8) scale(0.88 1.105)" font-size="18" letter-spacing="1.11" fill="#4a4a4a" stroke="#4a4a4a" stroke-width="0.3">***</text>
<text x="539.8" y="245.6" font-size="16.4" fill="#333">ns</text>
<text transform="translate(377.8 106.7) scale(1 1.04)" font-size="21.8" font-weight="bold" fill="#000">(b)</text>
<text transform="translate(421.2 290.7) rotate(-90)" font-size="20" font-weight="bold" text-anchor="middle" textLength="289.4" lengthAdjust="spacingAndGlyphs" fill="#000">Concentration of IL-1β (pg/mL)</text>
</g>
<g id="panel-c">
<rect x="101.85" y="896.85" width="16.7" height="8.15" fill="#44546a" stroke="#000" stroke-width="1.5"/>
<rect x="131.32" y="890.25" width="16.7" height="14.75" fill="#ffc000" stroke="#000" stroke-width="1.5"/>
<rect x="160.79" y="884.85" width="16.7" height="20.15" fill="#ff0000" stroke="#000" stroke-width="1.5"/>
<clipPath id="cc3"><rect x="190.26" y="845.35" width="16.7" height="59.65"/></clipPath>
<rect x="190.26" y="845.35" width="16.7" height="59.65" fill="#ffc000"/>
<path clip-path="url(#cc3)" d="M189.26 844.35l18.7 -18.7v1.06l-18.7 18.7zM189.26 846.93l18.7 -18.7v1.06l-18.7 18.7zM189.26 849.51l18.7 -18.7v1.06l-18.7 18.7zM189.26 852.09l18.7 -18.7v1.06l-18.7 18.7zM189.26 854.67l18.7 -18.7v1.06l-18.7 18.7zM189.26 857.25l18.7 -18.7v1.06l-18.7 18.7zM189.26 859.83l18.7 -18.7v1.06l-18.7 18.7zM189.26 862.4l18.7 -18.7v1.06l-18.7 18.7zM189.26 864.98l18.7 -18.7v1.06l-18.7 18.7zM189.26 867.56l18.7 -18.7v1.06l-18.7 18.7zM189.26 870.14l18.7 -18.7v1.06l-18.7 18.7zM189.26 872.72l18.7 -18.7v1.06l-18.7 18.7zM189.26 875.3l18.7 -18.7v1.06l-18.7 18.7zM189.26 877.88l18.7 -18.7v1.06l-18.7 18.7zM189.26 880.46l18.7 -18.7v1.06l-18.7 18.7zM189.26 883.04l18.7 -18.7v1.06l-18.7 18.7zM189.26 885.62l18.7 -18.7v1.06l-18.7 18.7zM189.26 888.2l18.7 -18.7v1.06l-18.7 18.7zM189.26 890.78l18.7 -18.7v1.06l-18.7 18.7zM189.26 893.35l18.7 -18.7v1.06l-18.7 18.7zM189.26 895.93l18.7 -18.7v1.06l-18.7 18.7zM189.26 898.51l18.7 -18.7v1.06l-18.7 18.7zM189.26 901.09l18.7 -18.7v1.06l-18.7 18.7zM189.26 903.67l18.7 -18.7v1.06l-18.7 18.7zM189.26 906.25l18.7 -18.7v1.06l-18.7 18.7zM189.26 908.83l18.7 -18.7v1.06l-18.7 18.7zM189.26 911.41l18.7 -18.7v1.06l-18.7 18.7zM189.26 913.99l18.7 -18.7v1.06l-18.7 18.7zM189.26 916.57l18.7 -18.7v1.06l-18.7 18.7zM189.26 919.15l18.7 -18.7v1.06l-18.7 18.7zM189.26 921.73l18.7 -18.7v1.06l-18.7 18.7zM189.26 924.31l18.7 -18.7v1.06l-18.7 18.7z" fill="#fff"/>
<rect x="190.26" y="845.35" width="16.7" height="59.65" fill="none" stroke="#000" stroke-width="1.5"/>
<clipPath id="cc4"><rect x="219.73" y="831.05" width="16.7" height="73.95"/></clipPath>
<rect x="219.73" y="831.05" width="16.7" height="73.95" fill="#ff0000"/>
<path clip-path="url(#cc4)" d="M218.73 830.05l18.7 -18.7v1.06l-18.7 18.7zM218.73 832.63l18.7 -18.7v1.06l-18.7 18.7zM218.73 835.21l18.7 -18.7v1.06l-18.7 18.7zM218.73 837.79l18.7 -18.7v1.06l-18.7 18.7zM218.73 840.37l18.7 -18.7v1.06l-18.7 18.7zM218.73 842.95l18.7 -18.7v1.06l-18.7 18.7zM218.73 845.53l18.7 -18.7v1.06l-18.7 18.7zM218.73 848.1l18.7 -18.7v1.06l-18.7 18.7zM218.73 850.68l18.7 -18.7v1.06l-18.7 18.7zM218.73 853.26l18.7 -18.7v1.06l-18.7 18.7zM218.73 855.84l18.7 -18.7v1.06l-18.7 18.7zM218.73 858.42l18.7 -18.7v1.06l-18.7 18.7zM218.73 861l18.7 -18.7v1.06l-18.7 18.7zM218.73 863.58l18.7 -18.7v1.06l-18.7 18.7zM218.73 866.16l18.7 -18.7v1.06l-18.7 18.7zM218.73 868.74l18.7 -18.7v1.06l-18.7 18.7zM218.73 871.32l18.7 -18.7v1.06l-18.7 18.7zM218.73 873.9l18.7 -18.7v1.06l-18.7 18.7zM218.73 876.48l18.7 -18.7v1.06l-18.7 18.7zM218.73 879.05l18.7 -18.7v1.06l-18.7 18.7zM218.73 881.63l18.7 -18.7v1.06l-18.7 18.7zM218.73 884.21l18.7 -18.7v1.06l-18.7 18.7zM218.73 886.79l18.7 -18.7v1.06l-18.7 18.7zM218.73 889.37l18.7 -18.7v1.06l-18.7 18.7zM218.73 891.95l18.7 -18.7v1.06l-18.7 18.7zM218.73 894.53l18.7 -18.7v1.06l-18.7 18.7zM218.73 897.11l18.7 -18.7v1.06l-18.7 18.7zM218.73 899.69l18.7 -18.7v1.06l-18.7 18.7zM218.73 902.27l18.7 -18.7v1.06l-18.7 18.7zM218.73 904.85l18.7 -18.7v1.06l-18.7 18.7zM218.73 907.43l18.7 -18.7v1.06l-18.7 18.7zM218.73 910.01l18.7 -18.7v1.06l-18.7 18.7zM218.73 912.58l18.7 -18.7v1.06l-18.7 18.7zM218.73 915.16l18.7 -18.7v1.06l-18.7 18.7zM218.73 917.74l18.7 -18.7v1.06l-18.7 18.7zM218.73 920.32l18.7 -18.7v1.06l-18.7 18.7zM218.73 922.9l18.7 -18.7v1.06l-18.7 18.7z" fill="#fff"/>
<rect x="219.73" y="831.05" width="16.7" height="73.95" fill="none" stroke="#000" stroke-width="1.5"/>
<clipPath id="cc5"><rect x="249.2" y="891.75" width="16.7" height="13.25"/></clipPath>
<rect x="249.2" y="891.75" width="16.7" height="13.25" fill="#000000"/>
<path clip-path="url(#cc5)" d="M248.2 890.75l18.7 -18.7v1.43l-18.7 18.7zM248.2 894.15l18.7 -18.7v1.43l-18.7 18.7zM248.2 897.55l18.7 -18.7v1.43l-18.7 18.7zM248.2 900.95l18.7 -18.7v1.43l-18.7 18.7zM248.2 904.35l18.7 -18.7v1.43l-18.7 18.7zM248.2 907.75l18.7 -18.7v1.43l-18.7 18.7zM248.2 911.15l18.7 -18.7v1.43l-18.7 18.7zM248.2 914.55l18.7 -18.7v1.43l-18.7 18.7zM248.2 917.95l18.7 -18.7v1.43l-18.7 18.7zM248.2 921.35l18.7 -18.7v1.43l-18.7 18.7z" fill="#fff"/>
<rect x="249.2" y="891.75" width="16.7" height="13.25" fill="none" stroke="#000" stroke-width="1.5"/>
<rect x="278.67" y="898.75" width="16.7" height="6.25" fill="#e7e6e6" stroke="#000" stroke-width="1.5"/>
<path d="M96.2 529.25V905.75M90 905H301.3" stroke="#000" stroke-width="1.5" fill="none"/>
<path d="M91.8 867.5H96.2M90 830H96.2M91.8 792.5H96.2M90 755H96.2M91.8 717.5H96.2M90 680H96.2M91.8 642.5H96.2M90 605H96.2M91.8 567.5H96.2M90 530H96.2" stroke="#000" stroke-width="1.5" fill="none"/>
<text transform="translate(77 912.59) scale(1 1.03)" font-size="21.62" font-weight="bold" text-anchor="end" fill="#000">0</text>
<text transform="translate(77 837.59) scale(1 1.03)" font-size="21.62" font-weight="bold" text-anchor="end" fill="#000">50</text>
<text transform="translate(77 762.59) scale(1 1.03)" font-size="21.62" font-weight="bold" text-anchor="end" fill="#000">100</text>
<text transform="translate(77 687.59) scale(1 1.03)" font-size="21.62" font-weight="bold" text-anchor="end" fill="#000">150</text>
<text transform="translate(77 612.59) scale(1 1.03)" font-size="21.62" font-weight="bold" text-anchor="end" fill="#000">200</text>
<text transform="translate(77 537.59) scale(1 1.03)" font-size="21.62" font-weight="bold" text-anchor="end" fill="#000">250</text>
<path d="M110.4 896.2V897.8M108.7 896.2H112.1M108.7 897.8H112.1M140 888V891.4M137.5 888H142.5M137.5 891.4H142.5M169.4 882.4V887M166.9 882.4H171.9M166.9 887H171.9M198.6 838.6V851M196.1 838.6H201.1M196.1 851H201.1M228.4 823V838M225.9 823H230.9M225.9 838H230.9M257.4 890.4V893M254.9 890.4H259.9M254.9 893H259.9M287 897.8V899.4M285.3 897.8H288.7M285.3 899.4H288.7" stroke="#6e6e6e" stroke-width="1.4" fill="none"/>
<path d="M169.4 764.4V749.6H258.4V764.4M198 787.4V774H258.4V787.4M227.6 812.6V798.6H258.4V812.6" stroke="#000" stroke-width="1.7" fill="none" stroke-linejoin="round"/>
<text transform="translate(206.2 750.8) scale(0.88 1.105)" font-size="18" letter-spacing="1.11" fill="#4a4a4a" stroke="#4a4a4a" stroke-width="0.3">**</text>
<text transform="translate(217.2 774.4) scale(0.88 1.105)" font-size="18" letter-spacing="1.11" fill="#4a4a4a" stroke="#4a4a4a" stroke-width="0.3">***</text>
<text transform="translate(229.2 799.8) scale(0.88 1.105)" font-size="18" letter-spacing="1.11" fill="#4a4a4a" stroke="#4a4a4a" stroke-width="0.3">***</text>
<text transform="translate(1.6 534.2) scale(1 1.04)" font-size="22.24" font-weight="bold" fill="#000">(c)</text>
<text transform="translate(36.3 717.5) rotate(-90)" font-size="20.8" font-weight="bold" text-anchor="middle" textLength="300.7" lengthAdjust="spacingAndGlyphs" fill="#000">Concentration of IL-10 (pg/mL)</text>
</g>
<g id="panel-d">
<rect x="490.35" y="892.95" width="16.1" height="13.45" fill="#44546a" stroke="#000" stroke-width="1.5"/>
<rect x="518.98" y="887.5" width="16.1" height="18.9" fill="#ffc000" stroke="#000" stroke-width="1.5"/>
<rect x="547.61" y="870.25" width="16.1" height="36.15" fill="#ff0000" stroke="#000" stroke-width="1.5"/>
<clipPath id="cd3"><rect x="576.24" y="870.25" width="16.1" height="36.15"/></clipPath>
<rect x="576.24" y="870.25" width="16.1" height="36.15" fill="#ffc000"/>
<path clip-path="url(#cd3)" d="M575.24 869.25l18.1 -18.1v1.06l-18.1 18.1zM575.24 871.83l18.1 -18.1v1.06l-18.1 18.1zM575.24 874.41l18.1 -18.1v1.06l-18.1 18.1zM575.24 876.99l18.1 -18.1v1.06l-18.1 18.1zM575.24 879.57l18.1 -18.1v1.06l-18.1 18.1zM575.24 882.15l18.1 -18.1v1.06l-18.1 18.1zM575.24 884.73l18.1 -18.1v1.06l-18.1 18.1zM575.24 887.3l18.1 -18.1v1.06l-18.1 18.1zM575.24 889.88l18.1 -18.1v1.06l-18.1 18.1zM575.24 892.46l18.1 -18.1v1.06l-18.1 18.1zM575.24 895.04l18.1 -18.1v1.06l-18.1 18.1zM575.24 897.62l18.1 -18.1v1.06l-18.1 18.1zM575.24 900.2l18.1 -18.1v1.06l-18.1 18.1zM575.24 902.78l18.1 -18.1v1.06l-18.1 18.1zM575.24 905.36l18.1 -18.1v1.06l-18.1 18.1zM575.24 907.94l18.1 -18.1v1.06l-18.1 18.1zM575.24 910.52l18.1 -18.1v1.06l-18.1 18.1zM575.24 913.1l18.1 -18.1v1.06l-18.1 18.1zM575.24 915.68l18.1 -18.1v1.06l-18.1 18.1zM575.24 918.25l18.1 -18.1v1.06l-18.1 18.1zM575.24 920.83l18.1 -18.1v1.06l-18.1 18.1zM575.24 923.41l18.1 -18.1v1.06l-18.1 18.1z" fill="#fff"/>
<rect x="576.24" y="870.25" width="16.1" height="36.15" fill="none" stroke="#000" stroke-width="1.5"/>
<clipPath id="cd4"><rect x="604.87" y="845.65" width="16.1" height="60.75"/></clipPath>
<rect x="604.87" y="845.65" width="16.1" height="60.75" fill="#ff0000"/>
<path clip-path="url(#cd4)" d="M603.87 844.65l18.1 -18.1v1.06l-18.1 18.1zM603.87 847.23l18.1 -18.1v1.06l-18.1 18.1zM603.87 849.81l18.1 -18.1v1.06l-18.1 18.1zM603.87 852.39l18.1 -18.1v1.06l-18.1 18.1zM603.87 854.97l18.1 -18.1v1.06l-18.1 18.1zM603.87 857.55l18.1 -18.1v1.06l-18.1 18.1zM603.87 860.13l18.1 -18.1v1.06l-18.1 18.1zM603.87 862.7l18.1 -18.1v1.06l-18.1 18.1zM603.87 865.28l18.1 -18.1v1.06l-18.1 18.1zM603.87 867.86l18.1 -18.1v1.06l-18.1 18.1zM603.87 870.44l18.1 -18.1v1.06l-18.1 18.1zM603.87 873.02l18.1 -18.1v1.06l-18.1 18.1zM603.87 875.6l18.1 -18.1v1.06l-18.1 18.1zM603.87 878.18l18.1 -18.1v1.06l-18.1 18.1zM603.87 880.76l18.1 -18.1v1.06l-18.1 18.1zM603.87 883.34l18.1 -18.1v1.06l-18.1 18.1zM603.87 885.92l18.1 -18.1v1.06l-18.1 18.1zM603.87 888.5l18.1 -18.1v1.06l-18.1 18.1zM603.87 891.08l18.1 -18.1v1.06l-18.1 18.1zM603.87 893.65l18.1 -18.1v1.06l-18.1 18.1zM603.87 896.23l18.1 -18.1v1.06l-18.1 18.1zM603.87 898.81l18.1 -18.1v1.06l-18.1 18.1zM603.87 901.39l18.1 -18.1v1.06l-18.1 18.1zM603.87 903.97l18.1 -18.1v1.06l-18.1 18.1zM603.87 906.55l18.1 -18.1v1.06l-18.1 18.1zM603.87 909.13l18.1 -18.1v1.06l-18.1 18.1zM603.87 911.71l18.1 -18.1v1.06l-18.1 18.1zM603.87 914.29l18.1 -18.1v1.06l-18.1 18.1zM603.87 916.87l18.1 -18.1v1.06l-18.1 18.1zM603.87 919.45l18.1 -18.1v1.06l-18.1 18.1zM603.87 922.03l18.1 -18.1v1.06l-18.1 18.1zM603.87 924.61l18.1 -18.1v1.06l-18.1 18.1z" fill="#fff"/>
<rect x="604.87" y="845.65" width="16.1" height="60.75" fill="none" stroke="#000" stroke-width="1.5"/>
<clipPath id="cd5"><rect x="633.5" y="890.35" width="16.1" height="16.05"/></clipPath>
<rect x="633.5" y="890.35" width="16.1" height="16.05" fill="#000000"/>
<path clip-path="url(#cd5)" d="M632.5 889.35l18.1 -18.1v1.43l-18.1 18.1zM632.5 892.75l18.1 -18.1v1.43l-18.1 18.1zM632.5 896.15l18.1 -18.1v1.43l-18.1 18.1zM632.5 899.55l18.1 -18.1v1.43l-18.1 18.1zM632.5 902.95l18.1 -18.1v1.43l-18.1 18.1zM632.5 906.35l18.1 -18.1v1.43l-18.1 18.1zM632.5 909.75l18.1 -18.1v1.43l-18.1 18.1zM632.5 913.15l18.1 -18.1v1.43l-18.1 18.1zM632.5 916.55l18.1 -18.1v1.43l-18.1 18.1zM632.5 919.95l18.1 -18.1v1.43l-18.1 18.1zM632.5 923.35l18.1 -18.1v1.43l-18.1 18.1z" fill="#fff"/>
<rect x="633.5" y="890.35" width="16.1" height="16.05" fill="none" stroke="#000" stroke-width="1.5"/>
<rect x="662.13" y="896.15" width="16.1" height="10.25" fill="#d9d9d9" stroke="#000" stroke-width="1.5"/>
<path d="M484.3 530.65V907.15M477.4 906.4H683.7" stroke="#000" stroke-width="1.5" fill="none"/>
<path d="M479.4 868.9H484.3M477.4 831.4H484.3M479.4 793.9H484.3M477.4 756.4H484.3M479.4 718.9H484.3M477.4 681.4H484.3M479.4 643.9H484.3M477.4 606.4H484.3M479.4 568.9H484.3M477.4 531.4H484.3" stroke="#000" stroke-width="1.5" fill="none"/>
<text transform="translate(465.4 913.99) scale(1 1.03)" font-size="21.62" font-weight="bold" text-anchor="end" fill="#000">0</text>
<text transform="translate(465.4 838.99) scale(1 1.03)" font-size="21.62" font-weight="bold" text-anchor="end" fill="#000">50</text>
<text transform="translate(465.4 763.99) scale(1 1.03)" font-size="21.62" font-weight="bold" text-anchor="end" fill="#000">100</text>
<text transform="translate(465.4 688.99) scale(1 1.03)" font-size="21.62" font-weight="bold" text-anchor="end" fill="#000">150</text>
<text transform="translate(465.4 613.99) scale(1 1.03)" font-size="21.62" font-weight="bold" text-anchor="end" fill="#000">200</text>
<text transform="translate(465.4 538.99) scale(1 1.03)" font-size="21.62" font-weight="bold" text-anchor="end" fill="#000">250</text>
<path d="M498.4 890.6V894M495.9 890.6H500.9M495.9 894H500.9M527 885V890M524.5 885H529.5M524.5 890H529.5M555.6 865.4V874.6M553.1 865.4H558.1M553.1 874.6H558.1M584 865.4V875M581.5 865.4H586.5M581.5 875H586.5M612.4 837.6V853.6M609.9 837.6H614.9M609.9 853.6H614.9M641 888V892M638.5 888H643.5M638.5 892H643.5M670 894V897M668.3 894H671.7M668.3 897H671.7" stroke="#000" stroke-width="1.4" fill="none"/>
<path d="M556 779V765H641.4V779M583 802.6V788.4H641.4V802.6M611.6 827.4V813.4H641.4V827.4" stroke="#000" stroke-width="1.7" fill="none" stroke-linejoin="round"/>
<text transform="translate(587.2 765.4) scale(0.88 1.105)" font-size="18" letter-spacing="1.11" fill="#4a4a4a" stroke="#4a4a4a" stroke-width="0.3">***</text>
<text transform="translate(602.6 789.8) scale(0.88 1.105)" font-size="18" letter-spacing="1.11" fill="#4a4a4a" stroke="#4a4a4a" stroke-width="0.3">**</text>
<text transform="translate(613.8 814.4) scale(0.88 1.105)" font-size="18" letter-spacing="1.11" fill="#4a4a4a" stroke="#4a4a4a" stroke-width="0.3">***</text>
<text transform="translate(378 534.2) scale(1 1.04)" font-size="22.24" font-weight="bold" fill="#000">(d)</text>
<text transform="translate(427 719) rotate(-90)" font-size="20.8" font-weight="bold" text-anchor="middle" textLength="279.5" lengthAdjust="spacingAndGlyphs" fill="#000">Concentration of IL-6 (pg/mL)</text>
</g>
<path d="M486.5 482.4h3M522 482.4h3M550.5 482.4h2.4M576.6 482.6h1M605 482.6h1M633.4 482.6h.8M670.2 482.6h.6" stroke="#9a9a9a" stroke-width="0.9" fill="none"/>
<g id="legend">
<rect x="153" y="984.6" width="12.4" height="12.5" fill="#44546a" stroke="#1f1f1f" stroke-width="1.3" rx="0.8"/>
<text transform="translate(171 998.4) scale(1 1.07)" font-size="24.3" fill="#000">UT</text>
<rect x="427" y="984.6" width="12.4" height="12.5" fill="#ffc000" stroke="#1f1f1f" stroke-width="1.3" rx="0.8"/>
<text transform="translate(445 998.4) scale(1 1.07)" font-size="24.3" fill="#000">Pro</text>
<rect x="153" y="1013.7" width="12.4" height="12.5" fill="#ff0000" stroke="#1f1f1f" stroke-width="1.3" rx="0.8"/>
<text transform="translate(171 1027.5) scale(1 1.07)" font-size="24.3" fill="#000">ProLip</text>
<clipPath id="cl3"><rect x="427" y="1013.7" width="12.4" height="12.5"/></clipPath>
<rect x="427" y="1013.7" width="12.4" height="12.5" fill="#ffc000"/>
<path clip-path="url(#cl3)" d="M426 1012.7l15 -15v1.65l-15 15zM426 1016l15 -15v1.65l-15 15zM426 1019.3l15 -15v1.65l-15 15zM426 1022.6l15 -15v1.65l-15 15zM426 1025.9l15 -15v1.65l-15 15zM426 1029.2l15 -15v1.65l-15 15zM426 1032.5l15 -15v1.65l-15 15zM426 1035.8l15 -15v1.65l-15 15zM426 1039.1l15 -15v1.65l-15 15z" fill="#fff"/>
<rect x="427" y="1013.7" width="12.4" height="12.5" fill="none" stroke="#1f1f1f" stroke-width="1.3" rx="0.8"/>
<text transform="translate(445 1027.5) scale(1 1.07)" font-size="24.3" fill="#000">Pro + LPS</text>
<clipPath id="cl4"><rect x="153" y="1043.1" width="12.4" height="12.5"/></clipPath>
<rect x="153" y="1043.1" width="12.4" height="12.5" fill="#ff0000"/>
<path clip-path="url(#cl4)" d="M152 1042.1l15 -15v1.48l-15 15zM152 1045.4l15 -15v1.48l-15 15zM152 1048.7l15 -15v1.48l-15 15zM152 1052l15 -15v1.48l-15 15zM152 1055.3l15 -15v1.48l-15 15zM152 1058.6l15 -15v1.48l-15 15zM152 1061.9l15 -15v1.48l-15 15zM152 1065.2l15 -15v1.48l-15 15zM152 1068.5l15 -15v1.48l-15 15z" fill="#fff"/>
<rect x="153" y="1043.1" width="12.4" height="12.5" fill="none" stroke="#1f1f1f" stroke-width="1.3" rx="0.8"/>
<text transform="translate(171 1056.9) scale(1 1.07)" font-size="24.3" fill="#000">ProLip + LPS</text>
<clipPath id="cl5"><rect x="427" y="1043.1" width="12.4" height="12.5"/></clipPath>
<rect x="427" y="1043.1" width="12.4" height="12.5" fill="#000000"/>
<path clip-path="url(#cl5)" d="M426 1042.1l15 -15v1.42l-15 15zM426 1045.4l15 -15v1.42l-15 15zM426 1048.7l15 -15v1.42l-15 15zM426 1052l15 -15v1.42l-15 15zM426 1055.3l15 -15v1.42l-15 15zM426 1058.6l15 -15v1.42l-15 15zM426 1061.9l15 -15v1.42l-15 15zM426 1065.2l15 -15v1.42l-15 15zM426 1068.5l15 -15v1.42l-15 15z" fill="#fff"/>
<rect x="427" y="1043.1" width="12.4" height="12.5" fill="none" stroke="#1f1f1f" stroke-width="1.3" rx="0.8"/>
<text transform="translate(445 1056.9) scale(1 1.07)" font-size="24.3" fill="#000">LPS</text>
<rect x="153" y="1071.9" width="12.4" height="12.5" fill="#e7e6e6" stroke="#1f1f1f" stroke-width="1.3" rx="0.8"/>
<text transform="translate(171 1085.7) scale(1 1.07)" font-size="24.3" fill="#000">Doxorubicin</text>
</g>
</svg></body></html>
